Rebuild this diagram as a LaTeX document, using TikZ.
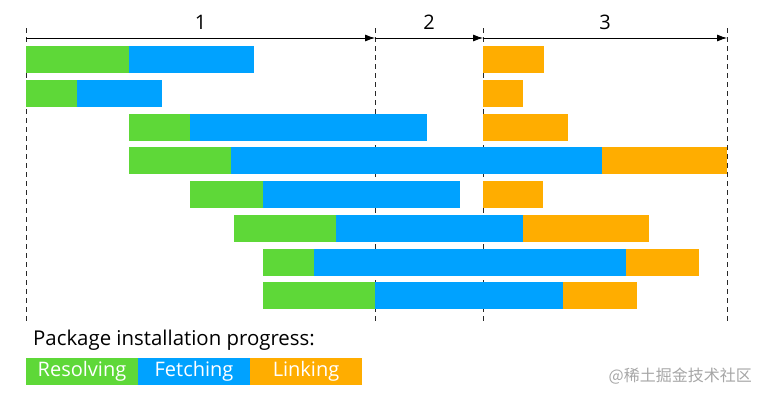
\documentclass[tikz,border=0pt]{standalone}
\usepackage{fontspec}
\setmainfont{Open Sans}
\newfontfamily\cjk{Noto Sans CJK SC}
\usetikzlibrary{arrows.meta}

\definecolor{resolvecol}{RGB}{94,216,56}
\definecolor{fetchcol}{RGB}{0,162,255}
\definecolor{linkcol}{RGB}{255,173,0}
\definecolor{dashcol}{RGB}{40,40,40}

\tikzset{
	phasearrow/.style={thick,-{Latex[length=10pt,width=7pt]}},
	phaseline/.style={dashcol,dash pattern=on 5pt off 4pt},
	phaselabel/.style={pos=0.5,anchor=south,inner sep=0pt,yshift=8pt,font=\fontsize{20}{22}\selectfont},
	legendbox/.style={minimum width=112pt,minimum height=27pt,inner sep=0pt,text=white,font=\fontsize{20}{22}\selectfont}
}

\begin{document}
\begin{tikzpicture}[x=1pt,y=-1pt]
	\useasboundingbox (0,0) rectangle (765,399);
	
	% phase borders
	\coordinate (t0) at (26,28);   \coordinate (b0) at (26,323);
	\coordinate (t1) at (375,28);  \coordinate (b1) at (375,323);
	\coordinate (t2) at (483,28);  \coordinate (b2) at (483,323);
	\coordinate (t3) at (727,28);  \coordinate (b3) at (727,323);
	
	\draw[phaseline] (t0) -- (b0);
	\draw[phaseline] (t1) -- (b1);
	\draw[phaseline] (t2) -- (b2);
	\draw[phaseline] (t3) -- (b3);
	
	\coordinate (a0) at (26,38);
	\coordinate (a1) at (375,38);
	\coordinate (a2) at (483,38);
	\coordinate (a3) at (727,38);
	\draw[phasearrow] (a0) -- (a1) node[phaselabel] (p1) {1};
	\draw[phasearrow] (a1) -- (a2) node[phaselabel] (p2) {2};
	\draw[phasearrow] (a2) -- (a3) node[phaselabel] (p3) {3};
	
	% bars: top, resolve start, fetch start, fetch end, link start, link end
	\foreach \y/\r/\f/\e/\l/\k in {
		46/26/129/254/483/544,
		80/26/77/162/483/523,
		114/129/190/427/483/568,
		147/129/231/602/602/727,
		181/190/263/460/483/543,
		215/234/336/523/523/649,
		249/263/314/626/626/699,
		282/263/375/563/563/637}{
		\fill[resolvecol] (\r,\y) rectangle (\f,\y+27);
		\fill[fetchcol] (\f,\y) rectangle (\e,\y+27);
		\fill[linkcol] (\l,\y) rectangle (\k,\y+27);
	}
	
	% legend
	\node[anchor=west,inner sep=0pt,font=\fontsize{20.4}{23}\selectfont] (title) at (33,340) {Package installation progress:};
	\node[legendbox,fill=resolvecol] (resolve) at (82,371) {Resolving};
	\node[legendbox,fill=fetchcol] (fetch) at (194,371) {Fetching};
	\node[legendbox,fill=linkcol] (link) at (306,371) {Linking};
	
	\node[anchor=east,inner sep=0pt,text=gray!70,font=\cjk\fontsize{16}{18}\selectfont] (mark) at (752,376) {@稀土掘金技术社区};
\end{tikzpicture}
\end{document}
